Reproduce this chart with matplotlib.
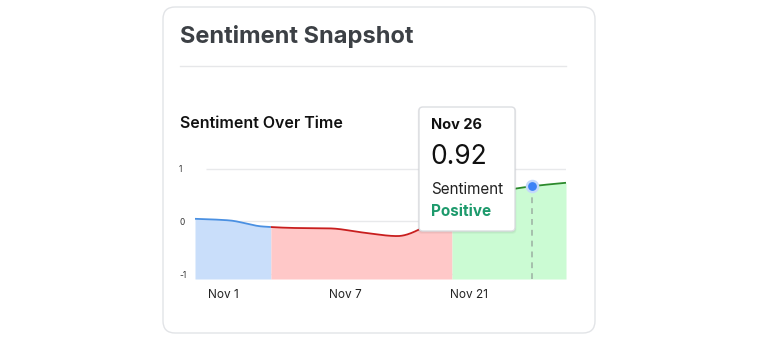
import matplotlib.pyplot as plt
import numpy as np
from matplotlib.patches import FancyBboxPatch
from matplotlib.ticker import FuncFormatter

plt.rcParams['font.family'] = ['Inter', 'DejaVu Sans']

# daily sentiment scores, one per data point along the x axis
scores = [0.07, 0.03, -0.13, -0.17, -0.18, -0.29, -0.38, -0.05, 0.55, 0.78, 0.92, 1.01]

# sentiment bands: where each classification starts / ends (in point index units)
band_edges = [0, 2.25, 7.62, 11]
band_kinds = ['neutral', 'negative', 'positive']

tick_pos = [0.83, 4.45, 8.12]
tick_labels = ['Nov 1', 'Nov 7', 'Nov 21']
y_ticks = [-1.37, 0, 1.37]

hover_idx = 10
hover_date = 'Nov 26'
hover_kind = 'Positive'

line_colors = {'neutral': '#4a90e2', 'negative': '#c81e1e', 'positive': '#2b8a2b'}
fill_colors = {'neutral': '#c9defa', 'negative': '#ffc8c8', 'positive': '#cbfbd3'}


def monotone_curve(x, y, xs):
    # cubic hermite with monotone tangents (same idea as d3.curveMonotoneX)
    x = np.asarray(x, float)
    y = np.asarray(y, float)
    h = np.diff(x)
    d = np.diff(y) / h
    m = np.zeros_like(y)
    for k in range(1, len(y) - 1):
        if d[k - 1] * d[k] > 0:
            w1 = 2 * h[k] + h[k - 1]
            w2 = h[k] + 2 * h[k - 1]
            m[k] = (w1 + w2) / (w1 / d[k - 1] + w2 / d[k])
    m[0] = (3 * d[0] - m[1]) / 2
    m[-1] = (3 * d[-1] - m[-2]) / 2
    k = np.clip(np.searchsorted(x, xs) - 1, 0, len(x) - 2)
    t = (xs - x[k]) / h[k]
    h00 = 2 * t**3 - 3 * t**2 + 1
    h10 = t**3 - 2 * t**2 + t
    h01 = -2 * t**3 + 3 * t**2
    h11 = t**3 - t**2
    return h00 * y[k] + h10 * h[k] * m[k] + h01 * y[k + 1] + h11 * h[k] * m[k + 1]


W, H = 758, 339
fig = plt.figure(figsize=(W / 100, H / 100), dpi=100)


def fx(px):
    return px / W


def fy(py):
    return 1 - py / H


# card
card = FancyBboxPatch((fx(163), fy(333)), fx(595) - fx(163), fy(7) - fy(333),
                      boxstyle='round,pad=0,rounding_size=0.016',
                      transform=fig.transFigure, facecolor='white',
                      edgecolor='#e2e4e7', linewidth=1, mutation_aspect=W / H, zorder=-5)
fig.patches.append(card)

fig.text(fx(180), fy(37), 'Sentiment Snapshot', fontsize=17, fontweight='bold',
         color='#3c4045', va='center', ha='left')
fig.add_artist(plt.Line2D([fx(180), fx(566)], [fy(66), fy(66)], color='#e6e7e9', lw=1))
fig.text(fx(180), fy(123), 'Sentiment Over Time', fontsize=11.5, fontweight='semibold',
         color='#111111', va='center', ha='left')

ax = fig.add_axes([fx(195), fy(279), fx(566) - fx(195), fy(164) - fy(279)])
ax.set_zorder(2)
ax.set_xlim(0, len(scores) - 1)
ax.set_ylim(-1.5, 1.5)

xi = np.arange(len(scores))
for k, kind in enumerate(band_kinds):
    a, b = band_edges[k], band_edges[k + 1]
    xs = np.linspace(a, b, 200)
    ys = monotone_curve(xi, scores, xs)
    ax.fill_between(xs, ys, -1.5, color=fill_colors[kind], lw=0, zorder=1)
    ax.plot(xs, ys, color=line_colors[kind], lw=1.3, zorder=2, solid_capstyle='butt')

for yv in y_ticks:
    ax.hlines(yv, 0.33, len(scores) - 1, color='#e8e9eb', lw=1, zorder=0.5)

# hovered point with guide line
hv = scores[hover_idx]
ax.vlines(hover_idx, -1.5, hv, color='#9fb5a6', lw=1.2, linestyles=(0, (3.5, 3)), zorder=3)
ax.scatter([hover_idx], [hv], s=95, color='#c4d9fb', zorder=4, linewidths=0)
ax.scatter([hover_idx], [hv], s=40, color='#3b82f6', zorder=5, linewidths=0)

ax.set_xticks(tick_pos)
ax.set_xticklabels(tick_labels)
ax.set_yticks(y_ticks)
ax.yaxis.set_major_formatter(FuncFormatter(lambda v, p: f'{v:.0f}'))
ax.tick_params(axis='x', length=0, pad=7, labelsize=8.5, labelcolor='#222222')
ax.tick_params(axis='y', length=0, pad=11.5, labelsize=6, labelcolor='#333333')
for lab in ax.get_yticklabels():
    lab.set_horizontalalignment('left')
for s in ax.spines.values():
    s.set_visible(False)
ax.set_facecolor('none')

# tooltip, with a soft drop shadow under it
for off, alpha in [(3, 0.03), (2, 0.04), (1, 0.05)]:
    sh = FancyBboxPatch((fx(419 - off / 2), fy(231 + off)), fx(515 + off) - fx(419), fy(107) - fy(231 + off),
                        boxstyle='round,pad=0,rounding_size=0.006',
                        transform=fig.transFigure, facecolor='black', alpha=alpha,
                        edgecolor='none', zorder=9, mutation_aspect=W / H)
    fig.add_artist(sh)
tip = FancyBboxPatch((fx(419), fy(231)), fx(515) - fx(419), fy(107) - fy(231),
                     boxstyle='round,pad=0,rounding_size=0.005',
                     transform=fig.transFigure, facecolor='white',
                     edgecolor='#dcdee2', linewidth=1, zorder=10, mutation_aspect=W / H)
fig.add_artist(tip)
fig.text(fx(431), fy(125), hover_date, fontsize=10.5, fontweight='bold', color='#111111',
         va='center', ha='left', zorder=11)
fig.text(fx(430), fy(157), f'{hv:.2f}', fontsize=19, color='#111111',
         va='center', ha='left', zorder=11)
fig.text(fx(431), fy(189), 'Sentiment', fontsize=11, color='#222222',
         va='center', ha='left', zorder=11)
fig.text(fx(431), fy(212), hover_kind, fontsize=11, fontweight='bold', color='#1d9a6c',
         va='center', ha='left', zorder=11)

fig.savefig('out.png', dpi=100)
